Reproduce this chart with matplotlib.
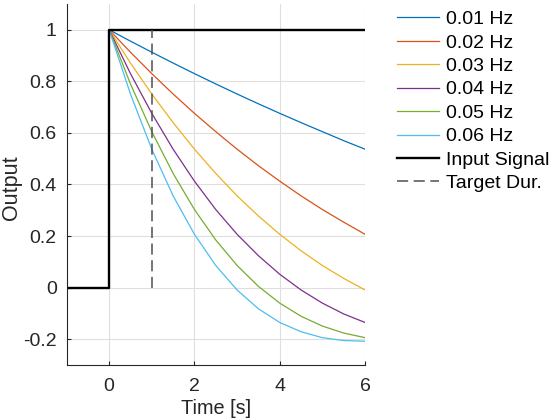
import matplotlib
matplotlib.use("Agg")
import matplotlib.pyplot as plt
from matplotlib.ticker import FormatStrFormatter

plt.rcParams['font.family'] = ['Liberation Sans', 'DejaVu Sans']
plt.rcParams['axes.unicode_minus'] = False
plt.rcParams['lines.scale_dashes'] = False

# data
t = [0, 0.5, 1, 1.5, 2, 2.5, 3, 3.5, 4, 4.5, 5, 5.5, 6]
y_001 = [1, 0.956, 0.913, 0.871, 0.830, 0.790, 0.751, 0.713, 0.676, 0.640, 0.605, 0.570, 0.537]
y_002 = [1, 0.913, 0.830, 0.751, 0.676, 0.605, 0.537, 0.473, 0.413, 0.356, 0.303, 0.254, 0.207]
y_003 = [1, 0.871, 0.751, 0.640, 0.537, 0.443, 0.356, 0.278, 0.207, 0.143, 0.086, 0.036, -0.009]
y_004 = [1, 0.830, 0.676, 0.537, 0.413, 0.303, 0.207, 0.124, 0.052, -0.009, -0.060, -0.102, -0.135]
y_005 = [1, 0.790, 0.605, 0.443, 0.303, 0.185, 0.086, 0.005, -0.060, -0.111, -0.149, -0.176, -0.194]
y_006 = [1, 0.751, 0.537, 0.356, 0.207, 0.086, -0.009, -0.082, -0.135, -0.171, -0.194, -0.205, -0.208]
labels = ['0.01 Hz', '0.02 Hz', '0.03 Hz', '0.04 Hz', '0.05 Hz', '0.06 Hz']
colors = ['#0072BD', '#D95319', '#EDB120', '#7E2F8E', '#77AC30', '#4DBEEE']

t_in = [-1, 0, 0, 6]
u_in = [0, 0, 1, 1]
target_t = 1

fig = plt.figure(figsize=(5.6, 4.18), dpi=100)
ax = fig.add_axes([66.5 / 560, 1 - 365 / 418, 298.5 / 560, 361 / 418])

for ys, lab, c in zip([y_001, y_002, y_003, y_004, y_005, y_006], labels, colors):
    ax.plot(t, ys, color=c, lw=0.9, label=lab)

ax.plot(t_in, u_in, color='black', lw=1.7, label='Input Signal')
ax.plot([target_t, target_t], [0, 1], color='#505050', lw=1.1,
        dashes=(8, 4), label='Target Dur.')

ax.set_xlim(-1, 6)
ax.set_ylim(-0.3, 1.1)
ax.set_xticks([0, 2, 4, 6])
ax.set_yticks([-0.2, 0, 0.2, 0.4, 0.6, 0.8, 1])
ax.yaxis.set_major_formatter(FormatStrFormatter('%g'))
ax.grid(True, color='#dfdfdf', lw=0.8)
ax.set_axisbelow(True)

for s in ['top', 'right']:
    ax.spines[s].set_visible(False)
for s in ['left', 'bottom']:
    ax.spines[s].set_color('#262626')
    ax.spines[s].set_linewidth(0.8)
ax.tick_params(direction='in', length=3, width=0.8, colors='#262626',
               labelsize=14, pad=7)
ax.tick_params(axis='x', pad=9.5)

ax.set_xlabel('Time [s]', fontsize=14.3, color='#262626', labelpad=3)
ax.set_ylabel('Output', fontsize=15.5, color='#262626')
ax.yaxis.set_label_coords(-0.15, 0.49)

fig.legend(loc='upper left', bbox_to_anchor=(396.7 / 560, 1 - 10.5 / 418),
           frameon=False, fontsize=14, handlelength=2.2, handletextpad=0.34,
           labelspacing=0.30, borderpad=0, borderaxespad=0)

fig.savefig('out.png', dpi=100)
